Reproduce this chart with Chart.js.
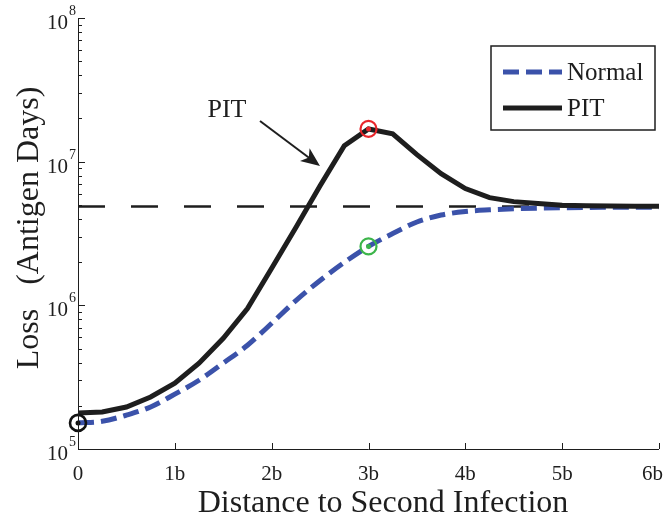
<!DOCTYPE html>
<html>
<head>
<meta charset="utf-8">
<script src="https://cdn.jsdelivr.net/npm/chart.js@4/dist/chart.umd.min.js"></script>
<style>
  html, body { margin: 0; padding: 0; background: #fff; }
  canvas { display: block; }
</style>
</head>
<body>
<canvas id="lossChart" width="665" height="520"></canvas>
<script>
// distance to second infection (units of b)
const distances = [0, 0.25, 0.5, 0.75, 1, 1.25, 1.5, 1.75, 2, 2.25, 2.5, 2.75, 3,
                   3.25, 3.5, 3.75, 4, 4.25, 4.5, 4.75, 5, 5.25, 5.5, 5.75, 6];
// loss (antigen days)
const pitLoss = [1.78e5, 1.81e5, 1.96e5, 2.30e5, 2.87e5, 3.96e5, 5.9e5, 9.5e5, 1.81e6,
                 3.48e6, 6.8e6, 1.29e7, 1.69e7, 1.56e7, 1.12e7, 8.25e6, 6.5e6, 5.62e6,
                 5.27e6, 5.11e6, 4.98e6, 4.93e6, 4.91e6, 4.9e6, 4.9e6];
const normalLoss = [1.52e5, 1.56e5, 1.72e5, 1.96e5, 2.41e5, 3.01e5, 3.96e5, 5.27e5, 7.5e5,
                    1.08e6, 1.49e6, 1.99e6, 2.57e6, 3.16e6, 3.8e6, 4.25e6, 4.5e6, 4.62e6,
                    4.7e6, 4.75e6, 4.78e6, 4.8e6, 4.81e6, 4.82e6, 4.82e6];
const refLevel = 4.87e6;
const xTickValues = [0, 1, 2, 3, 4, 5, 6];
const xTickLabels = ['0', '1b', '2b', '3b', '4b', '5b', '6b'];
const yDecades = [5, 6, 7, 8];

const serif = '"Liberation Serif", "DejaVu Serif", serif';
const ink = '#1e1e1e';
const blue = '#3b52aa';

function toPoints(xs, ys) {
    return xs.map((x, i) => ({ x: x, y: ys[i] }));
}

const axesPlugin = {
    id: 'matlabAxes',
    afterDatasetsDraw(chart) {
        const ctx = chart.ctx;
        const xs = chart.scales.x, ys = chart.scales.y;
        const px = v => xs.getPixelForValue(v);
        const py = v => ys.getPixelForValue(v);

        // markers: start point, PIT peak and Normal at 3b
        function ring(x, y, color, lw) {
            ctx.save();
            ctx.strokeStyle = color;
            ctx.fillStyle = color;
            ctx.lineWidth = lw;
            ctx.beginPath();
            ctx.arc(x, y, 8, 0, Math.PI * 2);
            ctx.stroke();
            ctx.beginPath();
            ctx.arc(x, y, 2.5, 0, Math.PI * 2);
            ctx.fill();
            ctx.restore();
        }
        const i3 = distances.indexOf(3);
        ring(px(0), py(normalLoss[0]), '#111', 2.6);
        ring(px(3), py(pitLoss[i3]), '#e8262b', 2.2);
        ring(px(3), py(normalLoss[i3]), '#3cb54a', 2.2);
    },
    afterDraw(chart) {
        const ctx = chart.ctx;
        const xs = chart.scales.x, ys = chart.scales.y;
        const area = chart.chartArea;
        const px = v => xs.getPixelForValue(v);
        const py = v => ys.getPixelForValue(v);
        ctx.save();

        // axis lines (left + bottom)
        ctx.strokeStyle = ink;
        ctx.lineWidth = 1;
        ctx.beginPath();
        ctx.moveTo(area.left + 0.5, area.top);
        ctx.lineTo(area.left + 0.5, area.bottom + 0.5);
        ctx.lineTo(area.right, area.bottom + 0.5);
        ctx.stroke();

        // y ticks, inward, log minors
        ctx.beginPath();
        yDecades.forEach(d => {
            const y = Math.round(py(Math.pow(10, d))) + 0.5;
            ctx.moveTo(area.left, y);
            ctx.lineTo(area.left + 7, y);
            if (d < yDecades[yDecades.length - 1]) {
                for (let m = 2; m <= 9; m++) {
                    const ym = Math.round(py(m * Math.pow(10, d))) + 0.5;
                    ctx.moveTo(area.left, ym);
                    ctx.lineTo(area.left + 4, ym);
                }
            }
        });
        // x ticks, inward
        xTickValues.forEach(v => {
            const x = Math.round(px(v)) + 0.5;
            ctx.moveTo(x, area.bottom);
            ctx.lineTo(x, area.bottom - 6);
        });
        ctx.stroke();

        ctx.fillStyle = ink;
        // x tick labels (keep the last one inside the canvas)
        ctx.font = '21px ' + serif;
        ctx.textAlign = 'center';
        ctx.textBaseline = 'alphabetic';
        xTickValues.forEach((v, i) => {
            const w = ctx.measureText(xTickLabels[i]).width;
            const cx = Math.min(px(v), chart.width - 2 - w / 2);
            ctx.fillText(xTickLabels[i], cx, area.bottom + 31);
        });

        // y tick labels 10^n
        yDecades.forEach(d => {
            const y = py(Math.pow(10, d));
            ctx.font = '21px ' + serif;
            ctx.textAlign = 'right';
            ctx.fillText('10', area.left - 10, y + 11);
            ctx.font = '14px ' + serif;
            ctx.textAlign = 'left';
            ctx.fillText(String(d), area.left - 9, y - 3);
        });

        // axis titles
        ctx.font = '32px ' + serif;
        ctx.textAlign = 'center';
        ctx.fillText('Distance to Second Infection', 383, 512);
        ctx.save();
        ctx.translate(38, 228);
        ctx.rotate(-Math.PI / 2);
        ctx.fillText('Loss   (Antigen Days)', 0, 0);
        ctx.restore();

        // annotation "PIT" with arrow
        ctx.font = '26px ' + serif;
        ctx.textAlign = 'center';
        ctx.fillText('PIT', 227, 117);
        const ax0 = 260, ay0 = 121, ax1 = 320, ay1 = 166;
        const ang = Math.atan2(ay1 - ay0, ax1 - ax0);
        ctx.strokeStyle = ink;
        ctx.lineWidth = 2;
        ctx.beginPath();
        ctx.moveTo(ax0, ay0);
        ctx.lineTo(ax1 - 10 * Math.cos(ang), ay1 - 10 * Math.sin(ang));
        ctx.stroke();
        ctx.save();
        ctx.translate(ax1, ay1);
        ctx.rotate(ang);
        ctx.beginPath();
        ctx.moveTo(0, 0);
        ctx.lineTo(-19, -8);
        ctx.lineTo(-14, 0);
        ctx.lineTo(-19, 8);
        ctx.closePath();
        ctx.fill();
        ctx.restore();

        // legend box
        const lx = 491, ly = 46, lw = 164, lh = 84;
        ctx.fillStyle = '#fff';
        ctx.fillRect(lx, ly, lw, lh);
        ctx.strokeStyle = ink;
        ctx.lineWidth = 1.5;
        ctx.strokeRect(lx, ly, lw, lh);
        const rows = [
            { label: 'Normal', ds: chart.data.datasets[1], y: 72 },
            { label: 'PIT', ds: chart.data.datasets[0], y: 108 }
        ];
        rows.forEach(r => {
            ctx.strokeStyle = r.ds.borderColor;
            ctx.lineWidth = r.ds.borderWidth;
            ctx.setLineDash(r.ds.borderDash || []);
            ctx.beginPath();
            ctx.moveTo(503, r.y);
            ctx.lineTo(562, r.y);
            ctx.stroke();
            ctx.setLineDash([]);
            ctx.fillStyle = ink;
            ctx.font = '25px ' + serif;
            ctx.textAlign = 'left';
            ctx.textBaseline = 'middle';
            ctx.fillText(r.label, 567, r.y + 1);
        });
        ctx.restore();
    }
};

new Chart(document.getElementById('lossChart').getContext('2d'), {
    type: 'line',
    data: {
        datasets: [{
            label: 'PIT',
            data: toPoints(distances, pitLoss),
            borderColor: ink,
            borderWidth: 5,
            pointRadius: 0,
            tension: 0,
            order: 0
        }, {
            label: 'Normal',
            data: toPoints(distances, normalLoss),
            borderColor: blue,
            borderWidth: 5,
            borderDash: [16, 7],
            pointRadius: 0,
            cubicInterpolationMode: 'monotone',
            order: 1
        }, {
            label: 'level',
            data: toPoints([0, 6], [refLevel, refLevel]),
            borderColor: ink,
            borderWidth: 2.5,
            borderDash: [27, 26],
            pointRadius: 0,
            order: 2
        }]
    },
    options: {
        responsive: false,
        animation: false,
        layout: { padding: { left: 78, top: 18, right: 6, bottom: 71 } },
        scales: {
            x: { type: 'linear', min: 0, max: 6, display: false },
            y: { type: 'logarithmic', min: 1e5, max: 1e8, display: false }
        },
        plugins: {
            legend: { display: false },
            tooltip: { enabled: false }
        }
    },
    plugins: [axesPlugin]
});
</script>
</body>
</html>
